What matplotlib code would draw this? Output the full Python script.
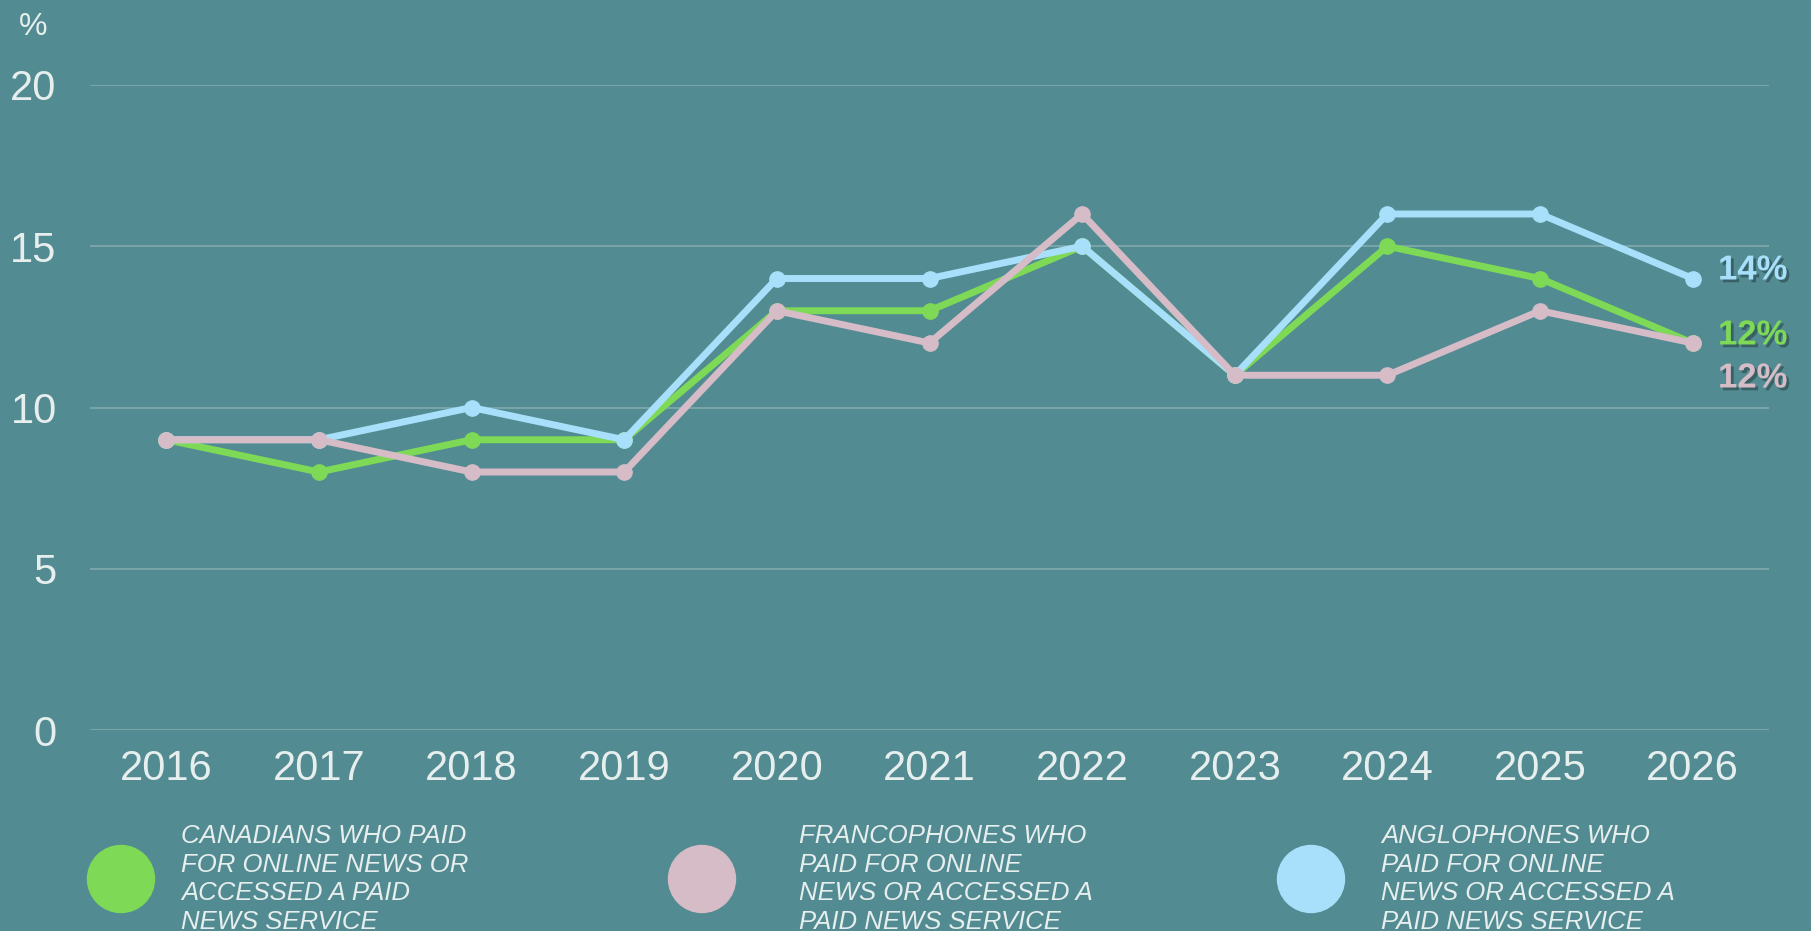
import matplotlib.pyplot as plt
import matplotlib.patheffects as pe
from matplotlib.patches import Circle

anios = [2016, 2017, 2018, 2019, 2020, 2021, 2022, 2023, 2024, 2025, 2026]
canadienses = [9, 8, 9, 9, 13, 13, 15, 11, 15, 14, 12]
francofonos = [9, 9, 8, 8, 13, 12, 16, 11, 11, 13, 12]
anglofonos = [9, 9, 10, 9, 14, 14, 15, 11, 16, 16, 14]
ticks_y = [0, 5, 10, 15, 20]

etiquetas = [
    "CANADIANS WHO PAID\nFOR ONLINE NEWS OR\nACCESSED A PAID\nNEWS SERVICE",
    "FRANCOPHONES WHO\nPAID FOR ONLINE\nNEWS OR ACCESSED A\nPAID NEWS SERVICE",
    "ANGLOPHONES WHO\nPAID FOR ONLINE\nNEWS OR ACCESSED A\nPAID NEWS SERVICE",
]

fondo = "#528B91"
texto = "#E6EEEE"
verde = "#7ED957"
rosa = "#D5BCC7"
azul = "#A8DFFB"

plt.rcParams["font.family"] = ["Liberation Sans", "DejaVu Sans"]

W, H = 1811, 931
fig = plt.figure(figsize=(W / 100, H / 100), dpi=100)
fig.patch.set_facecolor(fondo)
ax = fig.add_axes([90 / W, 1 - 730 / H, (1769 - 90) / W, (730 - 85) / H])
ax.set_facecolor(fondo)

# orden: verde abajo, rosa arriba
series = [(canadienses, verde), (anglofonos, azul), (francofonos, rosa)]
for valores, color in series:
    ax.plot(anios, valores, color=color, lw=5, marker="o", markersize=11,
            solid_capstyle="round", clip_on=False)

ax.set_xlim(2015.5, 2026.5)
ax.set_ylim(0, 20)
ax.set_yticks(ticks_y)
ax.set_xticks(anios)
ax.grid(axis="y", color="#86ACB0", lw=1.1)
ax.set_axisbelow(True)
for s in ax.spines.values():
    s.set_visible(False)
ax.tick_params(axis="y", length=0, pad=24, labelsize=30, labelcolor=texto)
ax.tick_params(axis="x", length=0, pad=13.5, labelsize=30, labelcolor=texto)

fig.text(33 / W, 1 - 27 / H, "%", fontsize=23, color=texto, ha="center", va="center")

# etiquetas finales
sombra = [pe.withSimplePatchShadow(offset=(2, -2), shadow_rgbFace="black", alpha=0.3)]
finales = [(anglofonos[-1], azul, 270), (canadienses[-1], verde, 335), (francofonos[-1], rosa, 378)]
for valor, color, yp in finales:
    fig.text(1718 / W, 1 - yp / H, f"{valor}%", fontsize=25, fontweight="bold",
             color=color, ha="left", va="center", path_effects=sombra)

# leyenda
leyenda_x = [(121, 181), (702, 799), (1311, 1381)]
for (cx, tx), color, etiqueta in zip(leyenda_x, [verde, rosa, azul], etiquetas):
    fig.add_artist(Circle((cx, H - 879), 33.5, transform=None, color=color))
    fig.text(tx / W, 1 - 879 / H, etiqueta, fontsize=18.5, style="italic", color=texto,
             ha="left", va="center", linespacing=1.24)

fig.savefig("out.png", dpi=100, facecolor=fondo)
